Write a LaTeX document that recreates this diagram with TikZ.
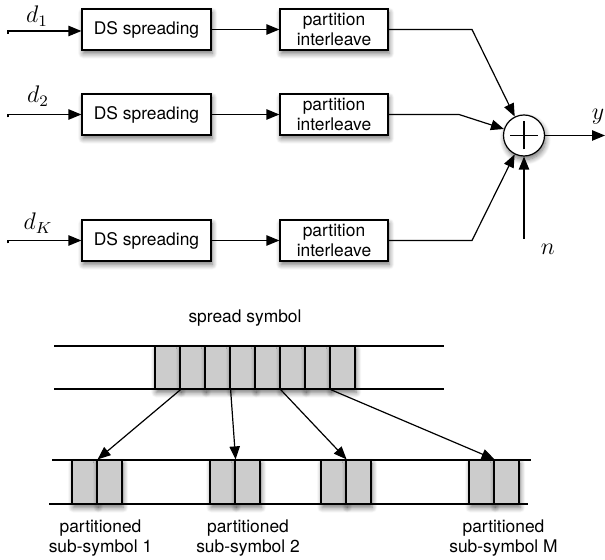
\documentclass[tikz,border=0pt]{standalone}
\usepackage{fontspec}
\setmainfont{TeX Gyre Heros}
\usepackage{tikz}
\usetikzlibrary{arrows.meta,positioning,shadows.blur}
\definecolor{cellgray}{RGB}{204,204,204}
\tikzset{
  arr/.style={-{Triangle[length=6.5pt,width=5.2pt]},line width=0.6pt},
  softshadow/.style={blur shadow={shadow xshift=0.6pt,shadow yshift=-1.8pt,shadow blur radius=2.6pt,shadow blur steps=8,shadow opacity=55}},
  band/.style={line width=0.65pt},
  txt/.style={font=\fontsize{8.7}{10}\selectfont,align=center,inner sep=0pt},
  mathlbl/.style={font=\fontsize{12}{14}\selectfont,inner sep=0pt}
}

\begin{document}
\begin{tikzpicture}[
  x=0.5pt,y=-0.5pt,
  block/.style={draw,fill=white,line width=0.6pt,inner sep=0pt,minimum height=20.5pt,txt,softshadow},
  dsbox/.style={block,minimum width=64.5pt},
  pibox/.style={block,minimum width=54pt},
  sumnode/.style={circle,draw,fill=white,line width=0.6pt,minimum size=20.5pt,inner sep=0pt,softshadow},
  plusline/.style={line width=0.8pt},
  cell/.style={draw,fill=cellgray,line width=0.6pt,inner sep=0pt,minimum width=12.5pt,softshadow}
]

\useasboundingbox (0,0) rectangle (605,560);

\begin{scope}
  \node[dsbox] (ds1) at (146.5,29.5) {DS spreading};
  \node[dsbox] (ds2) at (146.5,114.5) {DS spreading};
  \node[dsbox] (dsK) at (146.5,240.5) {DS spreading};

  \node[pibox] (pi1) at (334,29.5) {partition\\interleave};
  \node[pibox] (pi2) at (334,114.5) {partition\\interleave};
  \node[pibox] (piK) at (334,240.5) {partition\\interleave};

  \node[sumnode] (sum) at (524,135.5) {};
  \draw[plusline] ([xshift=-7pt]sum.center) -- ([xshift=7pt]sum.center);
  \draw[plusline] ([yshift=-7pt]sum.center) -- ([yshift=7pt]sum.center);

  \coordinate (in1) at (8,31);
  \coordinate (in2) at (8,114.5);
  \coordinate (inK) at (8,240.5);
  \node[mathlbl] (lbl1) at (37,16) {$d_1$};
  \node[mathlbl] (lbl2) at (38,96) {$d_2$};
  \node[mathlbl] (lblK) at (38,223) {$d_K$};

  \foreach \r in {1,2,K} {
    \draw[arr] ([yshift=-1.4pt]in\r) -- (in\r) -- (in\r -| ds\r.west);
    \draw[arr] (ds\r) -- (pi\r);
  }

  \coordinate (bend1) at (472,29.5);
  \coordinate (bend2) at (459,114.5);
  \coordinate (bendK) at (472,240.5);
  \draw[arr] (pi1) -- (bend1) -- (sum);
  \draw[arr] (pi2) -- (bend2) -- (sum);
  \draw[arr] (piK) -- (bendK) -- (sum);

  \coordinate (yout) at (605,135.5);
  \draw[arr] (sum) -- (yout);
  \node[mathlbl] (lbly) at (598,117) {$y$};

  \coordinate (nin) at (524,239);
  \draw[arr] (nin) -- (sum);
  \node[mathlbl] (lbln) at (548,249) {$n$};
\end{scope}

\begin{scope}
  \node[txt] (spreadlbl) at (245,318) {spread symbol};

  \draw[band] (54,346) -- (444,346);
  \draw[band] (54,389) -- (444,389);
  \foreach \i in {0,...,7}
    \node[cell,minimum height=21.5pt] (s\i) at ({167.5+25*\i},367.5) {};

  \draw[band] (52,460) -- (531,460);
  \draw[band] (49,504) -- (528,504);
  \foreach \g/\x in {1/72,2/210,3/321,4/469} {
    \node[cell,minimum height=22pt] (p\g-1) at ({\x+12.5},482) {};
    \node[cell,minimum height=22pt] (p\g-2) at ({\x+37.5},482) {};
  }

  \foreach \s/\g in {0/1,2/2,4/3,6/4}
    \draw[arr] (s\s.south east) -- (p\g-1.north east);

  \node[txt] (sub1) at (100.5,538) {partitioned\\sub-symbol 1};
  \node[txt] (sub2) at (248,538) {partitioned\\sub-symbol 2};
  \node[txt] (subM) at (503.5,538) {partitioned\\sub-symbol M};
\end{scope}

\end{tikzpicture}
\end{document}
